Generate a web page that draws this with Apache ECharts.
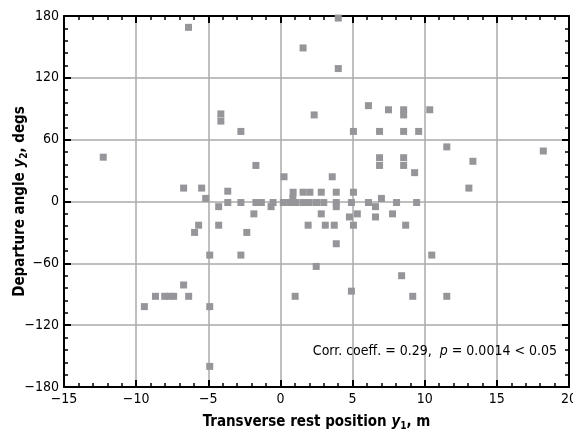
<!DOCTYPE html>
<html>
<head>
<meta charset="utf-8">
<script src="https://cdn.jsdelivr.net/npm/echarts@6/dist/echarts.min.js"></script>
<style>
html,body{margin:0;padding:0;background:#fff;}
#chart{width:573px;height:438px;}
</style>
</head>
<body>
<div id="chart"></div>
<script>
// Transverse rest position y1 (m)
const xValues = [
  -6.37, 1.57, -4.13, -4.13, -2.74, 2.34, -12.28, -1.70, 0.25, -6.71, -5.46, -3.65, 0.88, 1.57, 2.04,
  4.01, 4.01, 6.10, 7.49, 8.54, 8.54, 10.35, 5.06, 6.87, 8.54, 9.58, 11.53, 18.22, 6.87, 6.87, 8.54, 8.54,
  13.34, 9.30, 3.59, 13.06, 2.83, 3.87, 5.06,
  8.05, 9.44, 7.77, 8.68, 7.0, 2.83, 4.78, 5.33, 6.59, 6.59, 1.92, 3.11, 3.73, 5.06, 3.87, 2.48, 10.49,
  8.40, 4.92, 9.17, 11.53,
  -5.18, -4.28, -3.65, -2.74, -1.70, -1.32, -0.51, -1.84, -0.65, -5.67, -4.28, -5.95, -2.33, -4.90, -2.74,
  -6.71, -8.66, -8.02, -7.71, -7.40, -6.36, -9.43, -4.90, -4.90, 1.02,
  0.86, 0.2, 0.65, 1.05, 1.55, 2.0, 2.5, 3.0, 3.87, 4.92, 6.10, 3.87
];
// Departure angle y2 (degs)
const yValues = [
  169, 149, 85, 78, 68, 84, 43, 35, 24, 13, 13, 10, 9, 9, 9,
  178, 129, 93, 89, 89, 84, 89, 68, 68, 68, 68, 53, 49, 42.5, 35, 42.5, 35,
  39, 28, 24, 13, 9, 9, 9,
  -1, -1, -12, -23, 3, -12, -15, -12, -5, -15, -23, -23, -23, -23, -41, -63, -52,
  -72, -87, -92, -92,
  3, -5, -1, -1, -1, -1, -1, -12, -5, -23, -23, -30, -30, -52, -52,
  -81, -92, -92, -92, -92, -92, -102, -102, -160, -92,
  3, -1, -1, -1, -1, -1, -1, -1, -1, -1, -1, -5
];
const xTicks = [-15, -10, -5, 0, 5, 10, 15, 20];
const yTicks = [-180, -120, -60, 0, 60, 120, 180];

const FONT = '"DejaVu Sans Condensed","Liberation Sans Narrow","Roboto",sans-serif';
const pts = xValues.map((x, i) => [x, yValues[i]]);
const fmt = v => (v < 0 ? '\u2212' + Math.abs(v) : String(v));

const baseAxis = {
  axisLine: {show: true, onZero: false, lineStyle: {color: '#000', width: 2}},
  axisTick: {show: true, inside: true, length: 7, lineStyle: {color: '#000', width: 2}},
  minorTick: {show: true, splitNumber: 5, length: 4, lineStyle: {color: '#000', width: 1.5}},
};
const titleRich = {
  b: {fontFamily: FONT, fontSize: 15, fontWeight: 'bold', color: '#000'},
  i: {fontFamily: FONT, fontSize: 15, fontWeight: 'bold', fontStyle: 'italic', color: '#000'},
  s: {fontFamily: FONT, fontSize: 10, fontWeight: 'bold', color: '#000', padding: [8, 0, 0, 0]}
};

const chart = echarts.init(document.getElementById('chart'), null, {renderer: 'canvas'});
chart.setOption({
  animation: false,
  grid: {left: 64, right: 4, top: 16, bottom: 51, containLabel: false, outerBoundsMode: 'none'},
  xAxis: [
    Object.assign({}, baseAxis, {
      type: 'value', position: 'bottom', min: xTicks[0], max: xTicks[xTicks.length - 1], interval: 5,
      axisLabel: {show: true, color: '#000', fontFamily: FONT, fontSize: 14, margin: 5, formatter: fmt},
      splitLine: {show: true, lineStyle: {color: '#aaa', width: 1.5}},
      name: '{b|Transverse rest position }{i|y}{s|1}{b|, m}',
      nameLocation: 'middle', nameGap: 26, nameMoveOverlap: false,
      nameTextStyle: {rich: titleRich}
    }),
    Object.assign({}, baseAxis, {
      type: 'value', position: 'top', min: xTicks[0], max: xTicks[xTicks.length - 1], interval: 5,
      axisLabel: {show: false}, splitLine: {show: false}
    })
  ],
  yAxis: [
    Object.assign({}, baseAxis, {
      type: 'value', position: 'left', min: yTicks[0], max: yTicks[yTicks.length - 1], interval: 60,
      axisLabel: {show: true, color: '#000', fontFamily: FONT, fontSize: 14, margin: 5, formatter: fmt},
      splitLine: {show: true, lineStyle: {color: '#aaa', width: 1.5}},
      name: '{b|Departure angle }{i|y}{s|2}{b|, degs}',
      nameLocation: 'middle', nameGap: 35, nameRotate: 90, nameMoveOverlap: false,
      nameTextStyle: {rich: titleRich}
    }),
    Object.assign({}, baseAxis, {
      type: 'value', position: 'right', min: yTicks[0], max: yTicks[yTicks.length - 1], interval: 60,
      axisLabel: {show: false}, splitLine: {show: false}
    })
  ],
  series: [{
    type: 'scatter',
    xAxisIndex: 0, yAxisIndex: 0,
    data: pts,
    symbol: 'rect',
    symbolSize: 7,
    itemStyle: {color: '#96969a', opacity: 1},
    z: 5
  }],
  graphic: [{
    type: 'text',
    right: 16, top: 344,
    style: {
      text: '{n|Corr. coeff. = 0.29,  }{i|p}{n| = 0.0014 < 0.05}',
      rich: {
        n: {fontFamily: FONT, fontSize: 14, fill: '#000'},
        i: {fontFamily: FONT, fontSize: 14, fontStyle: 'italic', fill: '#000'}
      }
    },
    z: 10
  }]
});
</script>
</body>
</html>
